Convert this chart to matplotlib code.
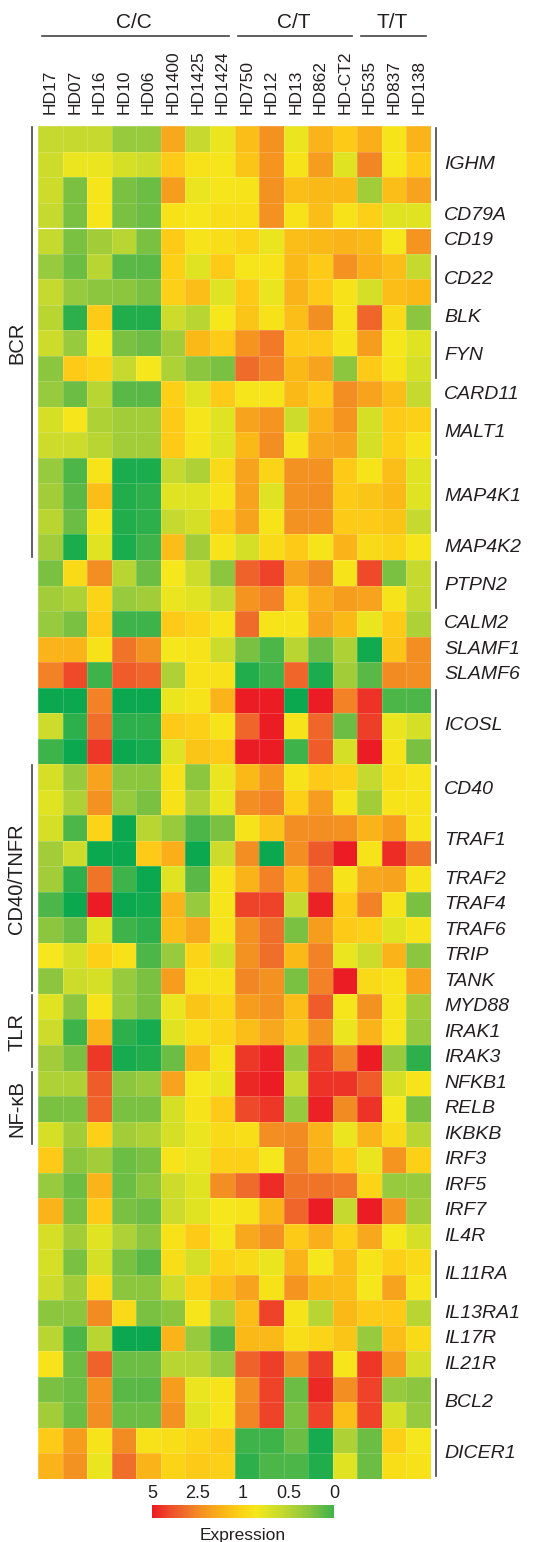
import matplotlib.pyplot as plt
import numpy as np
from matplotlib.colors import LinearSegmentedColormap, ListedColormap, FuncNorm
from matplotlib.cm import ScalarMappable
from matplotlib.transforms import blended_transform_factory

plt.rcParams['font.family'] = ['Liberation Sans', 'DejaVu Sans']

# samples grouped by genotype
samples = ['HD17', 'HD07', 'HD16', 'HD10', 'HD06', 'HD1400', 'HD1425', 'HD1424',
           'HD750', 'HD12', 'HD13', 'HD862', 'HD-CT2',
           'HD535', 'HD837', 'HD138']
genotypes = ['C/C', 'C/T', 'T/T']
genotype_sizes = [8, 5, 3]

# genes and number of probe rows per gene
genes = ['IGHM', 'CD79A', 'CD19', 'CD22', 'BLK', 'FYN', 'CARD11', 'MALT1', 'MAP4K1',
         'MAP4K2', 'PTPN2', 'CALM2', 'SLAMF1', 'SLAMF6', 'ICOSL', 'CD40', 'TRAF1',
         'TRAF2', 'TRAF4', 'TRAF6', 'TRIP', 'TANK', 'MYD88', 'IRAK1', 'IRAK3',
         'NFKB1', 'RELB', 'IKBKB', 'IRF3', 'IRF5', 'IRF7', 'IL4R', 'IL11RA',
         'IL13RA1', 'IL17R', 'IL21R', 'BCL2', 'DICER1']
probes = [3, 1, 1, 2, 1, 2, 1, 2, 3, 1, 2, 1, 1, 1, 3, 2, 2, 1, 1, 1, 1, 1, 1, 1, 1,
          1, 1, 1, 1, 1, 1, 1, 2, 1, 1, 1, 2, 2]

# pathway label, first gene, last gene
pathways = [('BCR', 'IGHM', 'MAP4K2'),
            ('CD40/TNFR', 'CD40', 'TANK'),
            ('TLR', 'MYD88', 'IRAK3'),
            ('NF-κB', 'NFKB1', 'IKBKB')]

# expression values (one list per probe row)
bcr_expr = [
    [0.75, 0.75, 0.75, 0.55, 0.55, 2.2, 0.75, 0.95, 1.8, 2.6, 0.95, 2.0, 1.6, 2.1, 1.1, 2.0],
    [0.8, 0.95, 0.95, 0.85, 0.8, 1.6, 1.15, 1.05, 1.7, 2.5, 1.1, 2.4, 0.9, 2.9, 1.0, 1.6],
    [0.8, 0.45, 1.05, 0.45, 0.4, 2.4, 0.95, 1.05, 1.1, 2.6, 1.8, 1.9, 1.9, 0.6, 1.8, 2.3],
    [0.75, 0.45, 1.05, 0.45, 0.4, 1.15, 1.05, 1.2, 1.2, 2.6, 1.15, 1.8, 1.15, 1.5, 0.9, 0.9],
    [0.75, 0.45, 0.6, 0.7, 0.45, 1.6, 1.1, 1.2, 1.4, 0.95, 1.8, 1.9, 2.0, 1.9, 1.0, 2.5],
    [0.55, 0.4, 0.7, 0.35, 0.35, 1.5, 0.9, 1.6, 1.05, 1.1, 1.9, 1.6, 2.6, 2.1, 1.8, 0.75],
    [0.75, 0.55, 0.5, 0.5, 0.45, 1.5, 1.8, 0.9, 1.6, 0.95, 2.0, 1.6, 1.15, 0.85, 1.8, 1.9],
    [0.7, 0.2, 1.6, 0.15, 0.15, 0.8, 0.7, 1.0, 1.7, 1.15, 1.8, 2.7, 1.15, 3.6, 1.3, 0.5],
    [0.8, 0.55, 1.0, 0.45, 0.4, 0.6, 1.9, 1.6, 2.5, 3.2, 1.6, 1.6, 1.1, 2.4, 1.0, 0.9],
    [0.5, 1.6, 1.4, 0.75, 1.0, 0.65, 0.5, 0.45, 3.5, 3.0, 1.9, 2.3, 0.5, 1.6, 1.1, 0.85],
    [0.55, 0.4, 0.7, 0.35, 0.35, 1.5, 0.9, 1.6, 1.05, 1.1, 1.9, 1.6, 2.7, 2.3, 1.8, 0.75],
    [0.85, 1.05, 0.65, 0.6, 0.6, 1.6, 1.05, 0.9, 2.3, 2.5, 0.8, 2.0, 2.5, 0.85, 1.6, 1.5],
    [0.8, 0.8, 0.7, 0.6, 0.6, 1.6, 1.1, 0.9, 1.9, 2.7, 1.05, 2.2, 2.3, 0.85, 1.5, 1.1],
    [0.55, 0.3, 1.1, 0.12, 0.12, 0.75, 0.65, 1.3, 2.3, 1.4, 2.6, 2.6, 1.6, 1.1, 1.8, 0.9],
    [0.6, 0.35, 1.8, 0.15, 0.2, 0.9, 0.9, 1.1, 2.3, 0.9, 2.6, 2.7, 1.6, 1.7, 1.9, 0.9],
    [0.7, 0.4, 1.1, 0.15, 0.2, 0.75, 0.85, 1.6, 2.3, 1.1, 2.6, 2.6, 1.6, 1.6, 1.7, 0.75],
    [0.6, 0.12, 0.9, 0.12, 0.25, 1.8, 0.6, 1.1, 0.85, 1.3, 1.6, 1.1, 2.0, 1.3, 1.4, 1.05],
]
misc_expr = [
    [0.45, 1.3, 2.7, 0.7, 0.4, 1.0, 0.8, 0.5, 3.7, 4.3, 2.3, 2.8, 1.1, 4.2, 0.45, 0.75],
    [0.6, 0.65, 1.4, 0.55, 0.6, 0.95, 0.9, 0.75, 2.5, 3.0, 1.4, 2.1, 2.4, 2.3, 1.1, 0.75],
    [0.55, 0.45, 1.6, 0.25, 0.25, 1.6, 1.4, 1.1, 3.5, 1.1, 1.1, 2.3, 1.9, 0.95, 1.6, 0.65],
    [2.0, 2.0, 1.15, 3.3, 2.6, 1.0, 1.1, 0.8, 0.45, 0.3, 0.7, 0.4, 0.65, 0.08, 1.7, 2.7],
    [3.0, 4.2, 0.25, 3.8, 3.6, 0.65, 1.15, 1.15, 0.15, 0.25, 3.6, 0.12, 0.6, 0.35, 2.8, 2.7],
    [0.05, 0.05, 3.0, 0.05, 0.05, 0.95, 1.1, 2.0, 5.0, 5.0, 0.05, 5.0, 3.0, 4.6, 0.3, 0.3],
    [0.8, 0.2, 3.4, 0.2, 0.2, 1.6, 1.5, 1.1, 3.6, 5.0, 1.1, 3.6, 0.4, 4.4, 0.95, 0.85],
    [0.25, 0.05, 4.5, 0.05, 0.1, 0.9, 1.7, 1.6, 5.0, 5.0, 0.25, 3.8, 0.85, 5.0, 1.1, 0.45],
]
cd40_expr = [
    [0.85, 0.55, 2.3, 0.5, 0.5, 1.15, 0.5, 0.95, 1.9, 2.5, 1.1, 1.6, 1.5, 0.75, 1.2, 1.05],
    [0.9, 0.65, 2.6, 0.55, 0.45, 1.15, 0.65, 0.95, 2.7, 3.0, 1.5, 2.4, 1.1, 0.6, 1.1, 1.1],
    [0.85, 0.3, 1.4, 0.05, 0.7, 0.55, 0.3, 0.45, 1.1, 1.7, 2.7, 2.7, 2.6, 2.0, 2.4, 1.1],
    [0.6, 0.8, 0.05, 0.05, 1.6, 2.1, 0.05, 0.8, 2.7, 0.05, 2.7, 3.9, 5.0, 1.1, 4.7, 3.3],
    [0.6, 0.2, 3.3, 0.25, 0.05, 0.9, 0.35, 1.1, 2.0, 3.0, 1.9, 3.2, 1.1, 2.2, 2.3, 1.1],
    [0.3, 0.05, 5.0, 0.05, 0.08, 2.0, 0.55, 1.05, 4.3, 4.3, 0.75, 4.9, 1.6, 3.0, 1.1, 0.45],
    [0.5, 0.4, 0.9, 0.25, 0.2, 1.8, 2.2, 1.1, 2.6, 3.4, 0.45, 2.4, 1.6, 1.5, 0.9, 1.1],
    [1.0, 0.85, 1.5, 1.15, 0.3, 0.55, 1.4, 0.85, 2.6, 3.4, 1.9, 3.0, 0.95, 0.8, 2.0, 0.5],
    [0.5, 0.8, 0.85, 0.55, 0.45, 2.4, 1.15, 1.15, 2.9, 2.6, 0.45, 3.0, 5.0, 1.3, 1.15, 2.3],
]
tlr_expr = [
    [0.9, 0.5, 1.1, 0.55, 0.45, 0.95, 1.7, 1.4, 2.4, 2.6, 1.8, 3.8, 1.05, 2.6, 1.1, 0.6],
    [0.8, 0.25, 2.0, 0.2, 0.1, 0.9, 1.2, 1.4, 1.8, 2.2, 1.7, 2.6, 0.95, 2.0, 1.05, 0.55],
    [0.6, 0.45, 4.5, 0.1, 0.15, 0.4, 2.0, 1.15, 4.5, 4.9, 0.55, 4.4, 2.9, 5.0, 0.55, 0.2],
]
nfkb_expr = [
    [0.65, 0.65, 3.8, 0.5, 0.55, 2.3, 1.0, 0.95, 4.8, 5.0, 0.75, 4.6, 4.6, 3.8, 0.85, 1.1],
    [0.45, 0.45, 3.7, 0.45, 0.45, 0.85, 1.1, 1.6, 4.2, 4.5, 0.55, 4.9, 2.8, 4.6, 1.0, 0.45],
    [0.85, 0.6, 1.5, 0.6, 0.65, 0.85, 0.95, 1.3, 1.2, 2.7, 2.8, 2.0, 0.95, 2.0, 1.3, 0.7],
]
other_expr = [
    [1.6, 0.5, 0.6, 0.4, 0.45, 1.1, 0.95, 1.5, 1.5, 1.0, 2.9, 2.1, 1.6, 0.95, 2.5, 1.5],
    [0.55, 0.4, 2.0, 0.4, 0.5, 0.8, 0.9, 2.7, 3.5, 4.7, 3.3, 3.3, 3.2, 1.4, 0.55, 0.55],
    [2.0, 0.45, 1.6, 0.45, 0.4, 0.8, 0.9, 1.0, 1.1, 2.0, 3.6, 5.0, 0.75, 5.0, 2.5, 0.6],
    [0.85, 0.6, 0.9, 0.65, 0.5, 1.15, 1.6, 1.05, 2.2, 2.6, 1.6, 2.1, 1.5, 2.2, 1.0, 0.85],
    [0.85, 0.45, 0.85, 0.45, 0.35, 1.2, 0.85, 1.4, 1.3, 0.95, 2.0, 1.0, 1.8, 1.1, 1.5, 1.3],
    [0.8, 0.6, 1.3, 0.5, 0.5, 0.8, 1.4, 1.8, 2.3, 1.15, 2.5, 1.9, 1.8, 1.0, 2.3, 1.05],
    [0.5, 0.5, 2.8, 1.3, 0.45, 0.5, 1.05, 0.65, 1.8, 4.3, 1.1, 0.7, 1.9, 1.6, 1.6, 0.7],
    [0.7, 0.3, 0.7, 0.05, 0.05, 2.0, 0.55, 0.3, 1.9, 1.9, 1.2, 1.4, 1.7, 0.55, 1.8, 1.3],
    [1.1, 0.4, 3.7, 0.4, 0.4, 0.7, 0.7, 0.55, 3.7, 4.4, 2.7, 4.4, 1.05, 4.5, 2.4, 0.85],
    [0.45, 0.4, 2.6, 0.35, 0.35, 2.4, 0.95, 1.1, 2.7, 4.3, 0.4, 4.8, 2.7, 4.3, 0.55, 0.5],
    [0.6, 0.4, 2.7, 0.4, 0.4, 2.6, 0.9, 1.05, 2.9, 4.3, 0.45, 4.3, 1.8, 4.3, 0.85, 0.55],
    [1.6, 2.4, 1.1, 2.8, 1.15, 1.2, 1.4, 1.6, 0.25, 0.25, 0.4, 0.1, 0.65, 0.4, 1.5, 1.0],
    [2.0, 2.6, 0.95, 3.4, 2.0, 1.4, 1.6, 1.5, 0.2, 0.3, 0.3, 0.15, 0.9, 0.4, 1.2, 1.15],
]
cbar_ticks = [5, 2.5, 1, 0.5, 0]

data = np.array(bcr_expr + misc_expr + cd40_expr + tlr_expr + nfkb_expr + other_expr)
n_rows, n_cols = data.shape

# colour scale: 0 -> green, 1 -> yellow, 5 -> red (piecewise)
knots_v = [0, 0.5, 1, 2.5, 5]
knots_t = [0, 0.25, 0.5, 0.75, 1]
norm = FuncNorm((lambda v: np.interp(v, knots_v, knots_t),
                 lambda t: np.interp(t, knots_t, knots_v)), vmin=0, vmax=5)
cmap = LinearSegmentedColormap.from_list('expr', [
    (0.0, '#00a651'), (0.1, '#2eb04b'), (0.175, '#5cb946'), (0.25, '#8cc63f'),
    (0.375, '#c4d92e'), (0.45, '#dfe322'), (0.5, '#f5e81b'), (0.58, '#fcd116'),
    (0.65, '#fbb918'), (0.72, '#f7a21d'), (0.78, '#f38b23'), (0.85, '#ef6b2a'),
    (0.92, '#ee4b2a'), (1.0, '#ec1c24')])

txt = '#231f20'
W, H = 558, 1542
fig = plt.figure(figsize=(W / 100, H / 100), dpi=100)
ax = fig.add_axes([38 / W, 1 - 1479 / H, 393 / W, 1353 / H])
ax.pcolormesh(data, cmap=cmap, norm=norm, edgecolors=(1, 1, 1, 0.18), linewidth=0.4)
ax.set_xlim(0, n_cols)
ax.set_ylim(n_rows, 0)
ax.axhline(4, color='white', lw=0.9)
ax.xaxis.tick_top()
ax.set_xticks(np.arange(n_cols) + 0.5)
ax.set_xticklabels(samples, rotation=90, fontsize=12.5, color=txt)
ax.tick_params(axis='x', length=0, pad=9)
ax.set_yticks([])
for s in ax.spines.values():
    s.set_visible(False)

# genotype headers
trans = blended_transform_factory(ax.transData, ax.transAxes)
start = 0
for name, n in zip(genotypes, genotype_sizes):
    ax.plot([start + 0.15, start + n - 0.22], [1.0665, 1.0665], transform=trans,
            clip_on=False, color='#444444', lw=1.2)
    ax.text(start + n / 2 - 0.1, 1.0765, name, transform=trans, ha='center',
            va='center', fontsize=15, color=txt)
    start += n

# gene labels with brackets for multi-probe genes
row_start = np.concatenate([[0], np.cumsum(probes)[:-1]])
gene_rows = {}
for g, r0, n in zip(genes, row_start, probes):
    gene_rows[g] = (r0, r0 + n)
    ax.text(16.53, r0 + n / 2, g, ha='left', va='center', fontsize=14,
            style='italic', color=txt, clip_on=False)
    if n > 1:
        ax.plot([16.2, 16.2], [r0 + 0.08, r0 + n - 0.12], color='#444444',
                lw=1.2, clip_on=False)

# pathway brackets on the left
for name, g0, g1 in pathways:
    y0, y1 = gene_rows[g0][0], gene_rows[g1][1]
    ax.plot([-0.24, -0.24], [y0 + 0.05, y1 - 0.12], color='#444444', lw=1.2,
            clip_on=False)
    ax.text(-0.87, (y0 + y1) / 2, name, rotation=90, ha='center', va='center',
            fontsize=14.5, color=txt, clip_on=False)

# colour bar
cbar_cmap = ListedColormap(cmap(np.linspace(0.13, 1, 256)))
cax = fig.add_axes([152 / W, 1 - 1518 / H, 182 / W, 13 / H])
cb = fig.colorbar(ScalarMappable(norm=norm, cmap=cbar_cmap), cax=cax,
                  orientation='horizontal', ticks=cbar_ticks)
cax.invert_xaxis()
cax.xaxis.set_ticks_position('top')
cax.set_xticklabels([str(t) for t in cbar_ticks], fontsize=13, color=txt)
cax.tick_params(axis='x', length=0, pad=2)
cb.outline.set_visible(False)
cax.text(0.5, -0.75, 'Expression', transform=cax.transAxes, ha='center', va='top',
         fontsize=12.5, color=txt)

fig.savefig('out.png', dpi=100)
